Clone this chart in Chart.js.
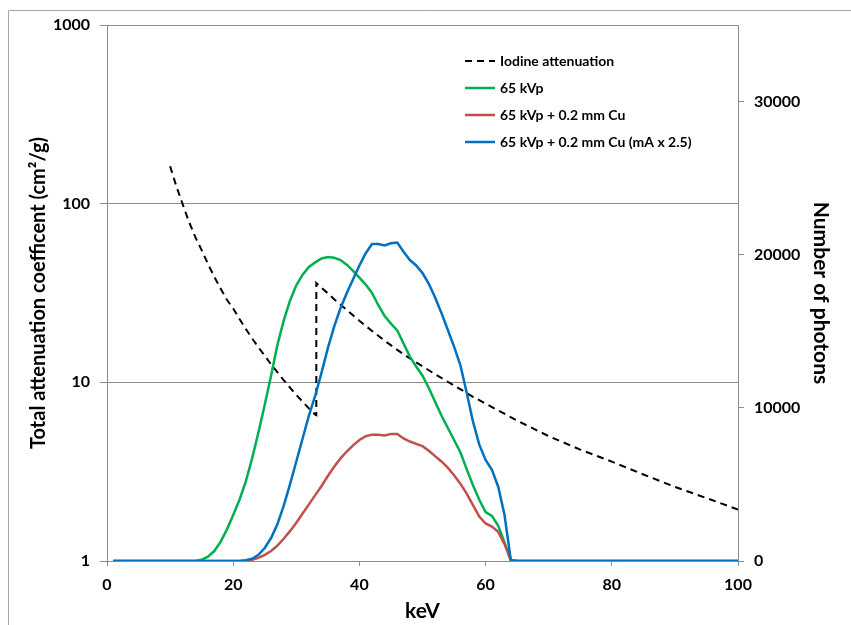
<!DOCTYPE html>
<html>
<head>
<meta charset="utf-8">
<script src="https://cdn.jsdelivr.net/npm/chart.js@4"></script>
<style>
html,body{margin:0;padding:0;background:#fff;}
canvas{display:block;}
</style>
</head>
<body>
<canvas id="c" width="851" height="625"></canvas>
<script>
// ---- data ----
const iodineKeV = [10,11,12,13,14,15,16,17,18,19,20,21,22,23,24,25,26,27,28,29,30,31,32,33,33.17,33.17,34,35,36,38,40,42,44,46,48,50,52,55,58,60,65,70,75,80,85,90,95,100];
const iodineMu  = [162,125,99,79,65,55,46,39,33.5,29,25.9,22.6,19.9,17.6,15.7,14.1,12.6,11.4,10.3,9.35,8.5,7.8,7.15,6.6,6.55,36.0,33.8,31.5,29.2,25.4,22.1,19.4,17.1,15.2,13.6,12.3,11.1,9.6,8.3,7.6,6.1,5.0,4.2,3.6,3.05,2.6,2.25,1.94];

const spectrumKeV = [1,2,3,4,5,6,7,8,9,10,11,12,13,14,15,16,17,18,19,20,21,22,23,24,25,26,27,28,29,30,31,32,33,34,35,36,37,38,39,40,41,42,43,44,45,46,47,48,49,50,51,52,53,54,55,56,57,58,59,60,61,62,63,64,65,66,67,68,69,70,71,72,73,74,75,76,77,78,79,80,81,82,83,84,85,86,87,88,89,90,91,92,93,94,95,96,97,98,99,100];
const photons65kVp = [0,0,0,0,0,0,0,0,0,0,0,0,0,0,80,280,650,1250,2050,3000,4000,5200,6700,8400,10200,12100,14100,15700,17000,18000,18700,19200,19500,19750,19850,19800,19650,19350,18950,18500,18050,17500,16700,16000,15500,15050,14200,13350,12700,12100,11300,10400,9500,8700,7900,7100,6000,4950,4000,3200,2950,2300,1200,50,0,0,0,0,0,0,0,0,0,0,0,0,0,0,0,0,0,0,0,0,0,0,0,0,0,0,0,0,0,0,0,0,0,0,0,0];
const photonsCu = [0,0,0,0,0,0,0,0,0,0,0,0,0,0,0,0,0,0,0,0,0,20,80,200,400,650,1000,1450,1950,2500,3100,3700,4300,4900,5550,6150,6700,7150,7550,7900,8150,8250,8250,8200,8300,8300,8000,7800,7650,7500,7200,6850,6500,6100,5600,5050,4400,3650,2900,2450,2250,1900,1100,50,0,0,0,0,0,0,0,0,0,0,0,0,0,0,0,0,0,0,0,0,0,0,0,0,0,0,0,0,0,0,0,0,0,0,0,0];
const photonsCuMa = [0,0,0,0,0,0,0,0,0,0,0,0,0,0,0,0,0,0,0,0,0,50,150,400,850,1500,2400,3600,5000,6500,8000,9500,10800,12300,13900,15300,16500,17500,18400,19300,20100,20700,20700,20600,20750,20800,20200,19650,19300,18800,18100,17200,16200,15100,14000,12800,11000,9100,7600,6600,5950,4850,3000,50,0,0,0,0,0,0,0,0,0,0,0,0,0,0,0,0,0,0,0,0,0,0,0,0,0,0,0,0,0,0,0,0,0,0,0,0];

const seriesLabels = ['Iodine attenuation','65 kVp','65 kVp + 0.2 mm Cu','65 kVp + 0.2 mm Cu (mA x 2.5)'];
const xTicks = [0,20,40,60,80,100];
const yLogTicks = [1,10,100,1000];
const yRightTicks = [0,10000,20000,30000];

const pts = (xs, ys) => xs.map((x,i)=>({x:x, y:ys[i]}));

const FONT = 'Lato';
const AX = '#8c8c8c';

const borderPlugin = {
  id:'outerBorder',
  beforeDraw(chart){
    const c = chart.ctx;
    c.save();
    c.fillStyle='#fff'; c.fillRect(0,0,chart.width,chart.height);
    c.strokeStyle='#a6a6a6'; c.lineWidth=1;
    c.beginPath();
    c.moveTo(8.5, chart.height+5); c.lineTo(8.5,10.5); c.lineTo(chart.width+5,10.5);
    c.stroke();
    c.restore();
  }
};

const legendPlugin = {
  id:'insideLegend',
  afterDraw(chart){
    const c = chart.ctx;
    const x0 = 465, x1 = 495, tx = 500, y0 = 61, dy = 27;
    c.save();
    c.font = 'bold 14px ' + FONT;
    c.textBaseline = 'middle';
    c.textAlign = 'left';
    chart.data.datasets.forEach((ds,i)=>{
      const y = y0 + i*dy;
      c.strokeStyle = ds.borderColor;
      c.lineWidth = ds.borderWidth;
      c.setLineDash(ds.borderDash || []);
      c.beginPath(); c.moveTo(x0,y); c.lineTo(x1,y); c.stroke();
      c.setLineDash([]);
      c.fillStyle = '#000';
      c.fillText(ds.label, tx, y);
    });
    c.restore();
  }
};

new Chart(document.getElementById('c'), {
  type:'line',
  data:{
    datasets:[
      {label:seriesLabels[0], data:pts(iodineKeV, iodineMu), yAxisID:'y', borderColor:'#000', borderWidth:2, borderDash:[7,5], pointRadius:0, order:3},
      {label:seriesLabels[1], data:pts(spectrumKeV, photons65kVp), yAxisID:'y2', borderColor:'#00B050', borderWidth:2.5, pointRadius:0, order:2},
      {label:seriesLabels[2], data:pts(spectrumKeV, photonsCu), yAxisID:'y2', borderColor:'#C0504D', borderWidth:2.5, pointRadius:0, order:1},
      {label:seriesLabels[3], data:pts(spectrumKeV, photonsCuMa), yAxisID:'y2', borderColor:'#0070C0', borderWidth:2.5, pointRadius:0, order:0}
    ]
  },
  options:{
    responsive:false,
    animation:false,
    devicePixelRatio:1,
    layout:{padding:{left:0,right:0,top:25,bottom:0}},
    plugins:{legend:{display:false}, tooltip:{enabled:false}},
    scales:{
      x:{
        type:'linear', position:'bottom', min:0, max:100,
        afterBuildTicks: s => { s.ticks = xTicks.map(v=>({value:v})); },
        afterFit: s => { s.height = 64; },
        ticks:{font:{family:FONT, size:16, weight:'bold'}, color:'#000', padding:9, maxRotation:0},
        grid:{display:true, drawOnChartArea:false, drawTicks:true, tickLength:5, color:AX},
        border:{display:true, color:AX, width:1},
        title:{display:true, text:'keV', font:{family:FONT, size:21, weight:'bold'}, color:'#000', padding:{top:0,bottom:1}}
      },
      y:{
        type:'logarithmic', position:'left', min:1, max:1000,
        afterBuildTicks: s => { s.ticks = yLogTicks.map(v=>({value:v})); },
        afterFit: s => { s.width = 107; },
        ticks:{font:{family:FONT, size:16, weight:'bold'}, color:'#000', padding:10, callback: v => String(v)},
        grid:{display:true, drawOnChartArea:true, drawTicks:true, tickLength:7, color:AX},
        border:{display:true, color:AX, width:1},
        title:{display:true, text:'Total attenuation coefficent (cm²/g)', font:{family:FONT, size:20, weight:'bold'}, color:'#000', padding:{top:27,bottom:0}}
      },
      y2:{
        type:'linear', position:'right', min:0, max:35000,
        afterBuildTicks: s => { s.ticks = yRightTicks.map(v=>({value:v})); },
        afterFit: s => { s.width = 113; },
        ticks:{font:{family:FONT, size:16, weight:'bold'}, color:'#000', padding:10, callback: v => String(v)},
        grid:{display:true, drawOnChartArea:false, drawTicks:true, tickLength:6, color:AX},
        border:{display:true, color:AX, width:1},
        title:{display:true, text:'Number of photons', font:{family:FONT, size:21, weight:'bold'}, color:'#000', padding:{top:18,bottom:0}}
      }
    }
  },
  plugins:[borderPlugin, legendPlugin]
});
</script>
</body>
</html>
